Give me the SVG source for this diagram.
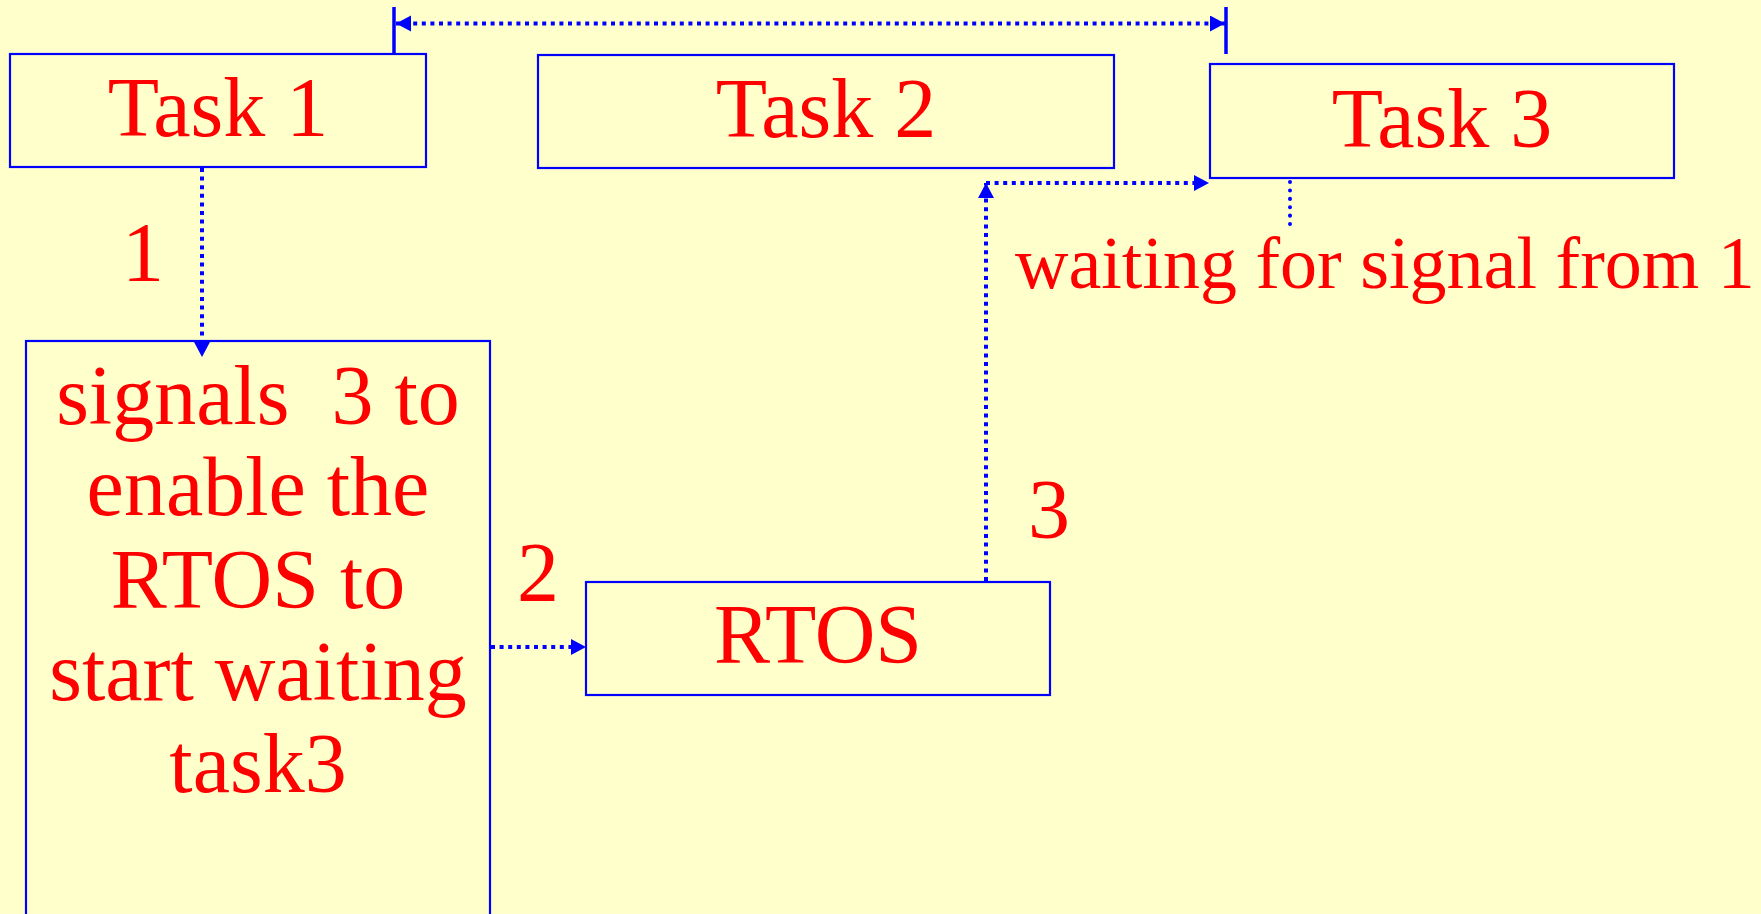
<svg xmlns="http://www.w3.org/2000/svg" width="1761" height="914" viewBox="0 0 1761 914">
<style>
.box{fill:none;stroke:#0000FF;stroke-width:2.2}
.lbl{font-family:"Liberation Serif","Times New Roman",serif;font-size:84px;fill:#FF0000;text-anchor:middle}
.small{font-size:74px}
.dot{fill:none;stroke:#0000FF;stroke-width:4;stroke-dasharray:4 4.6}
.rdot{fill:none;stroke:#0000FF;stroke-width:4;stroke-dasharray:0.1 8.3;stroke-linecap:round}
.tick{stroke:#0000FF;stroke-width:3.5}
</style>
<defs>
<marker id="ah" markerUnits="userSpaceOnUse" markerWidth="17" markerHeight="17" refX="15" refY="8" orient="auto-start-reverse">
<path d="M0,0 L15,8 L0,16 z" fill="#0000FF"/>
</marker>
</defs>
<rect x="0" y="0" width="1761" height="914" fill="#FFFFCC"/>

<g id="task1">
<rect class="box" x="10" y="54" width="416" height="113"/>
<text class="lbl" x="218" y="136">Task 1</text>
</g>
<g id="task2">
<rect class="box" x="538" y="55" width="576" height="113"/>
<text class="lbl" x="826" y="137">Task 2</text>
</g>
<g id="task3">
<rect class="box" x="1210" y="64" width="464" height="114"/>
<text class="lbl" x="1442" y="147">Task 3</text>
</g>
<g id="signals">
<rect class="box" x="26" y="341" width="464" height="600"/>
<text class="lbl" x="258" y="424" xml:space="preserve">signals  3 to</text>
<text class="lbl" x="258" y="515">enable the</text>
<text class="lbl" x="258" y="608">RTOS to</text>
<text class="lbl" x="258" y="700">start waiting</text>
<text class="lbl" x="258" y="792">task3</text>
</g>
<g id="rtos">
<rect class="box" x="586" y="582" width="464" height="113"/>
<text class="lbl" x="818" y="663">RTOS</text>
</g>
<g id="waiting">
<text class="lbl small" x="1015" y="288" style="text-anchor:start">waiting for signal from 1</text>
</g>

<g id="connectors">
<line class="tick" x1="394" y1="7" x2="394" y2="54"/>
<line class="tick" x1="1226" y1="7" x2="1226" y2="54"/>
<line class="dot" x1="396" y1="23.5" x2="1225" y2="23.5" marker-start="url(#ah)" marker-end="url(#ah)"/>
<line class="dot" x1="202" y1="168" x2="202" y2="357" marker-end="url(#ah)"/>
<line class="dot" x1="491" y1="647" x2="586" y2="647" marker-end="url(#ah)"/>
<line class="dot" x1="986" y1="581" x2="986" y2="183" marker-end="url(#ah)"/>
<line class="dot" x1="986" y1="183" x2="1209" y2="183" marker-end="url(#ah)"/>
<line class="rdot" x1="1290" y1="182" x2="1290" y2="225"/>
</g>

<g id="labels">
<text class="lbl" x="143" y="281">1</text>
<text class="lbl" x="538" y="601">2</text>
<text class="lbl" x="1049" y="538">3</text>
</g>
</svg>
